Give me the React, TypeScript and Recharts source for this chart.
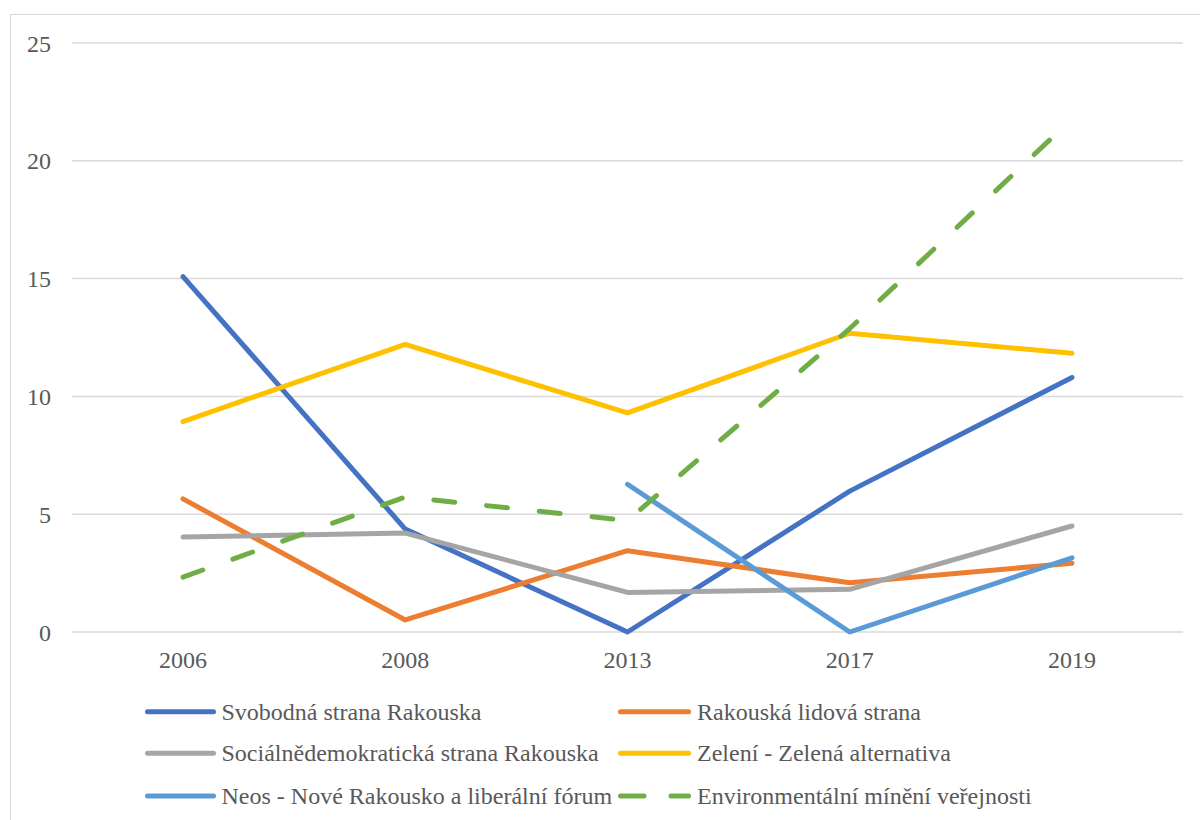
import React from "react";
import { LineChart, Line, XAxis, YAxis, CartesianGrid } from "recharts";

const years = ["2006", "2008", "2013", "2017", "2019"];
const svobodna = [15.08, 4.37, 0, 5.98, 10.8];
const lidova = [5.65, 0.51, 3.45, 2.09, 2.92];
const socialni = [4.03, 4.2, 1.68, 1.81, 4.5];
const zeleni = [8.93, 12.21, 9.3, 12.68, 11.83];
const neos: (number | null)[] = [null, null, 6.27, 0, 3.15];
const environment = [2.33, 5.73, 4.73, 12.88, 21.78];
const yTicks = [0, 5, 10, 15, 20, 25];

const seriesNames = [
  "Svobodná strana Rakouska",
  "Rakouská lidová strana",
  "Sociálnědemokratická strana Rakouska",
  "Zelení - Zelená alternativa",
  "Neos - Nové Rakousko a liberální fórum",
  "Environmentální mínění veřejnosti",
];
const seriesKeys = ["svobodna", "lidova", "socialni", "zeleni", "neos", "environment"];
const seriesColors = ["#4472C4", "#ED7D31", "#A5A5A5", "#FFC000", "#5B9BD5", "#70AD47"];

const data = years.map((y, i) => ({
  year: y,
  svobodna: svobodna[i],
  lidova: lidova[i],
  socialni: socialni[i],
  zeleni: zeleni[i],
  neos: neos[i],
  environment: environment[i],
}));

const FONT = '"Liberation Serif", "Times New Roman", serif';
const TEXT = "#595959";

function LegendOverlay() {
  const rows = [711.7, 753.3, 796];
  const cols = [
    { x1: 147.5, x2: 213.5, tx: 221.5 },
    { x1: 620.5, x2: 688.5, tx: 697 },
  ];
  return (
    <svg
      width={1200}
      height={820}
      style={{ position: "absolute", left: 0, top: 0, pointerEvents: "none" }}
    >
      {seriesNames.map((name, i) => {
        const r = rows[Math.floor(i / 2)];
        const c = cols[i % 2];
        const dashed = i === 5;
        return (
          <g key={name}>
            <line
              x1={c.x1}
              x2={c.x2}
              y1={r}
              y2={r}
              stroke={seriesColors[i]}
              strokeWidth={5}
              strokeLinecap="round"
              strokeDasharray={dashed ? "23.5 27" : undefined}
            />
            <text x={c.tx} y={r + 8} fontFamily={FONT} fontSize={24} fill={TEXT}>
              {name}
            </text>
          </g>
        );
      })}
    </svg>
  );
}

export default function App() {
  return (
    <div
      style={{
        position: "absolute",
        left: 0,
        top: 0,
        width: 1200,
        height: 820,
        overflow: "hidden",
        background: "#fff",
      }}
    >
      <div
        style={{
          position: "absolute",
          left: 10,
          top: 14,
          width: 1300,
          height: 900,
          border: "1.5px solid #D9D9D9",
          boxSizing: "border-box",
        }}
      />
      <div style={{ position: "absolute", left: 0, top: 0 }}>
        <LineChart
          width={1200}
          height={820}
          data={data}
          margin={{ top: 43, right: 17, left: 0, bottom: 158 }}
        >
          <CartesianGrid
            vertical={false}
            stroke="#D9D9D9"
            strokeWidth={1.5}
          />
          <XAxis
            dataKey="year"
            height={30}
            axisLine={false}
            tickLine={false}
            tickMargin={13}
            interval={0}
            padding={{ left: 111, right: 111 }}
            tick={{ fill: TEXT, fontSize: 24, fontFamily: FONT }}
          />
          <YAxis
            width={72}
            domain={[0, 25]}
            ticks={yTicks}
            axisLine={false}
            tickLine={false}
            tickMargin={15}
            tick={{ fill: TEXT, fontSize: 24, fontFamily: FONT }}
          />
          {seriesKeys.map((k, i) => (
            <Line
              key={k}
              dataKey={k}
              name={seriesNames[i]}
              type="linear"
              stroke={seriesColors[i]}
              strokeWidth={5}
              strokeLinecap="round"
              strokeLinejoin="round"
              strokeDasharray={i === 5 ? "21 32" : undefined}
              dot={false}
              activeDot={false}
              isAnimationActive={false}
            />
          ))}
        </LineChart>
      </div>
      <LegendOverlay />
    </div>
  );
}
